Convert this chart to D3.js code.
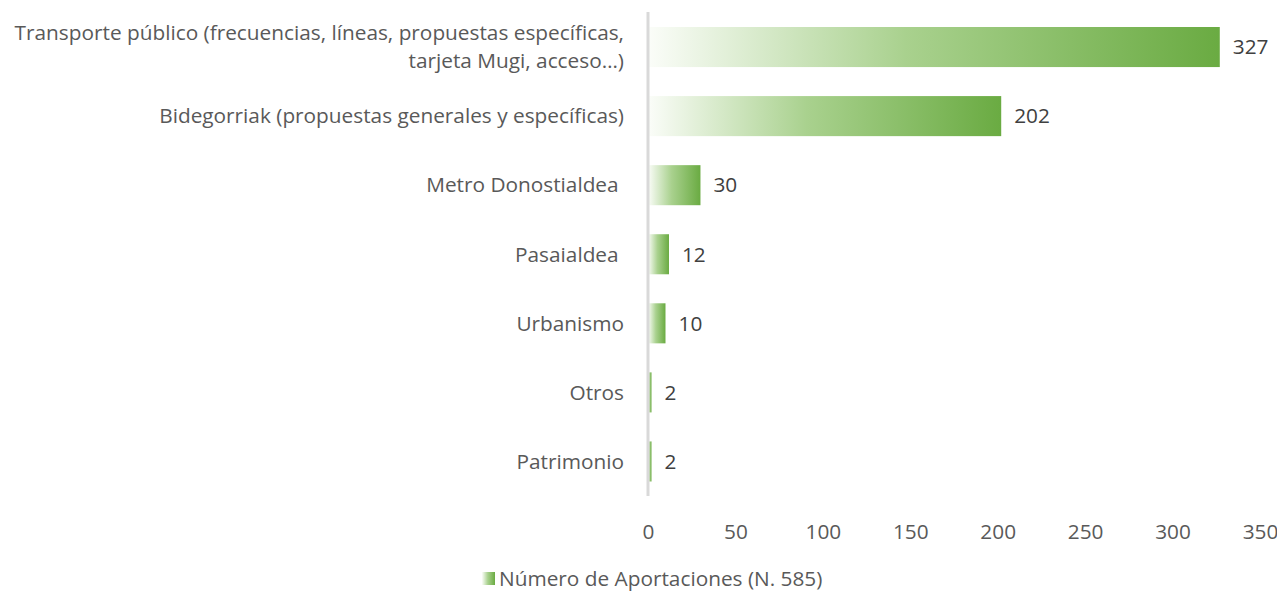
<!DOCTYPE html>
<html>
<head>
<meta charset="utf-8">
<script src="https://cdn.jsdelivr.net/npm/d3@7"></script>
<style>
  body { margin: 0; background: #fff; }
  text { font-family: "Open Sans", sans-serif; }
</style>
</head>
<body>
<div id="chart"></div>
<script>
var width = 1277, height = 593;

// data
var categories = [
    ["Transporte público (frecuencias, líneas, propuestas específicas,", "tarjeta Mugi, acceso…)"],
    ["Bidegorriak (propuestas generales y específicas)"],
    ["Metro Donostialdea "],
    ["Pasaialdea "],
    ["Urbanismo"],
    ["Otros"],
    ["Patrimonio"]
];
var values = [327, 202, 30, 12, 10, 2, 2];
var xTicks = [0, 50, 100, 150, 200, 250, 300, 350];
var legendLabel = "Número de Aportaciones (N. 585)";

var fontSize = "20.8px";

var svg = d3.select("#chart").append("svg")
    .attr("width", width)
    .attr("height", height);

// gradient fill like the office chart
var defs = svg.append("defs");
var grad = defs.append("linearGradient").attr("id", "barGrad")
    .attr("x1", "0%").attr("x2", "100%").attr("y1", "0%").attr("y2", "0%");
grad.append("stop").attr("offset", "0%").attr("stop-color", "#fbfdf9");
grad.append("stop").attr("offset", "45%").attr("stop-color", "#a9d18e");
grad.append("stop").attr("offset", "100%").attr("stop-color", "#6aab42");

var x = d3.scaleLinear()
    .domain([0, 350])
    .range([648, 1260]);

var y = d3.scaleBand()
    .domain(d3.range(values.length))
    .range([12.5, 496])
    .paddingInner(0.42)
    .paddingOuter(0.21);

var g = svg.append("g");

// bars
g.selectAll(".bar")
    .data(values)
    .enter().append("rect")
    .attr("class", "bar")
    .attr("x", x(0))
    .attr("y", function (d, i) { return y(i); })
    .attr("width", function (d) { return x(d) - x(0); })
    .attr("height", y.bandwidth())
    .style("fill", "url(#barGrad)");

// value labels
g.selectAll(".val")
    .data(values)
    .enter().append("text")
    .attr("class", "val")
    .attr("x", function (d) { return x(d) + 13; })
    .attr("y", function (d, i) { return y(i) + y.bandwidth() / 2; })
    .attr("dy", "0.35em")
    .style("font-size", fontSize)
    .style("fill", "#404040")
    .text(function (d) { return d; });

// vertical axis line
g.append("line")
    .attr("x1", x(0)).attr("x2", x(0))
    .attr("y1", 12).attr("y2", 496)
    .style("stroke", "#d9d9d9")
    .style("stroke-width", 3);

// category labels
var cat = g.selectAll(".cat")
    .data(categories)
    .enter().append("text")
    .attr("class", "cat")
    .attr("text-anchor", "end")
    .attr("xml:space", "preserve")
    .style("white-space", "pre")
    .style("font-size", fontSize)
    .style("fill", "#595959")
    .attr("transform", function (d, i) {
        return "translate(624," + (y(i) + y.bandwidth() / 2) + ")";
    });

cat.selectAll("tspan")
    .data(function (d) {
        return d.map(function (t, j) { return { t: t, j: j, n: d.length }; });
    })
    .enter().append("tspan")
    .attr("x", 0)
    .attr("y", function (d) { return (d.j - (d.n - 1) / 2) * 28; })
    .attr("dy", "0.35em")
    .text(function (d) { return d.t; });

// x axis ticks
var xAxis = d3.axisBottom(x).tickValues(xTicks).tickSize(0).tickPadding(0);
var ax = svg.append("g").attr("transform", "translate(0,524)").call(xAxis);
ax.select(".domain").remove();
ax.selectAll("text")
    .style("font-family", "'Open Sans', sans-serif")
    .style("font-size", fontSize)
    .style("fill", "#595959");

// legend
var lg = svg.append("g").attr("transform", "translate(482,572)");
lg.append("rect")
    .attr("width", 13).attr("height", 13)
    .style("fill", "url(#barGrad)");
lg.append("text")
    .attr("x", 17).attr("y", 7)
    .attr("dy", "0.35em")
    .style("font-size", fontSize)
    .style("fill", "#595959")
    .text(legendLabel);
</script>
</body>
</html>
